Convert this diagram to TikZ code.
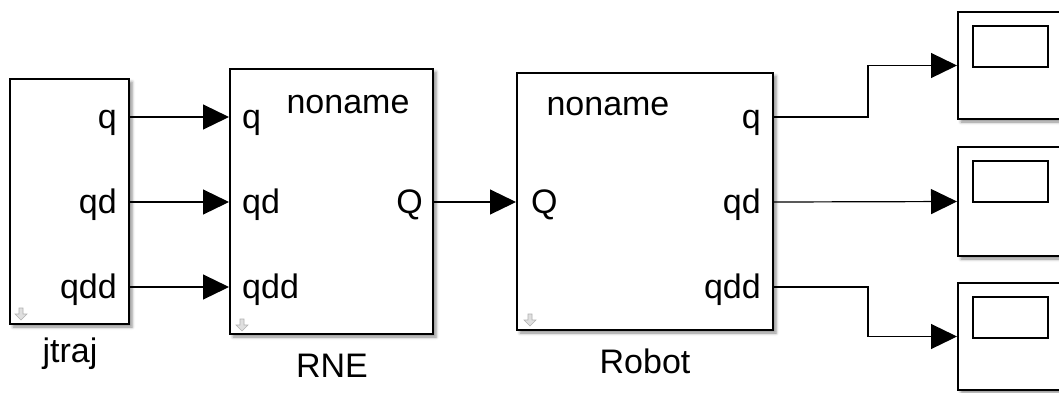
\documentclass[tikz,border=0pt]{standalone}
\usepackage{fontspec}
\setmainfont{Liberation Sans}
\usetikzlibrary{arrows.meta,positioning,shadows.blur}

\begin{document}
\begin{tikzpicture}[x=1pt,y=-1pt,
  font=\fontsize{34}{40}\selectfont,
  block/.style={draw=black,line width=2pt,fill=white,inner sep=0pt,blur shadow={shadow xshift=3pt,shadow yshift=-3pt,shadow blur radius=3pt,shadow opacity=45}},
  port/.style={inner sep=0pt,text height=22pt,text depth=0pt},
  arrow/.style={-{Triangle[length=26pt,width=25pt]},line width=1.2pt},
  dnicon/.pic={\filldraw[draw=gray!60,fill=gray!25,line width=0.6pt] (-2,-6) -- (2,-6) -- (2,0) -- (6,0) -- (0,6) -- (-6,0) -- (-2,0) -- cycle;}
]
\useasboundingbox (0,0) rectangle (1059,392);

% blocks
\node[block,minimum width=119pt,minimum height=245pt] (jtraj) at (69.5,201.5) {};
\node[block,minimum width=203pt,minimum height=265pt] (rne) at (331.5,201.5) {};
\node[block,minimum width=256pt,minimum height=257pt] (robot) at (645,201.5) {};
\node[block,minimum width=106pt,minimum height=107pt] (s1) at (1011,65.5) {};
\node[block,minimum width=106pt,minimum height=109pt] (s2) at (1011,201.5) {};
\node[block,minimum width=106pt,minimum height=107pt] (s3) at (1011,336.5) {};
\foreach \s in {s1,s2,s3}
  \draw[line width=1.2pt] ([xshift=16pt,yshift=-15pt]\s.north west) rectangle +(75,41);

\pic at (21,314) {dnicon};
\pic at (242,325) {dnicon};
\pic at (530,320) {dnicon};

% block names
\node[anchor=base] (jtrajname) at (70,362) {jtraj};
\node[anchor=base] (rnename) at (332,377) {RNE};
\node[anchor=base] (robotname) at (645,373) {Robot};
\node[anchor=base] (rnetag) at (348,113) {noname};
\node[anchor=base west] (robottag) at (543,115) {noname};

% ports
\node[port,anchor=east] (jq) at (117,117) {q};
\node[port,anchor=east] (jqd) at (117,202) {qd};
\node[port,anchor=east] (jqdd) at (117,287) {qdd};
\node[port,anchor=west] (rq) at (242,117) {q};
\node[port,anchor=west] (rqd) at (242,202) {qd};
\node[port,anchor=west] (rqdd) at (242,287) {qdd};
\node[port,anchor=east] (rQ) at (423,202) {Q};
\node[port,anchor=west] (bQ) at (531,202) {Q};
\node[port,anchor=east] (oq) at (761,117) {q};
\node[port,anchor=east] (oqd) at (761,202) {qd};
\node[port,anchor=east] (oqdd) at (761,287) {qdd};

% signals
\coordinate (bend) at (868,0);
\draw[arrow] (jtraj.east |- jq) -- (rne.west |- rq);
\draw[arrow] (jtraj.east |- jqd) -- (rne.west |- rqd);
\draw[arrow] (jtraj.east |- jqdd) -- (rne.west |- rqdd);
\draw[arrow] (rne.east |- rQ) -- (robot.west |- bQ);
\draw[arrow] (robot.east |- oq) -- (bend |- oq) -- (bend |- s1) -- (s1.west);
\draw[arrow] (robot.east |- oqd) -- (s2.west);
\draw[arrow] (robot.east |- oqdd) -- (bend |- oqdd) -- (bend |- s3) -- (s3.west);
\end{tikzpicture}
\end{document}
